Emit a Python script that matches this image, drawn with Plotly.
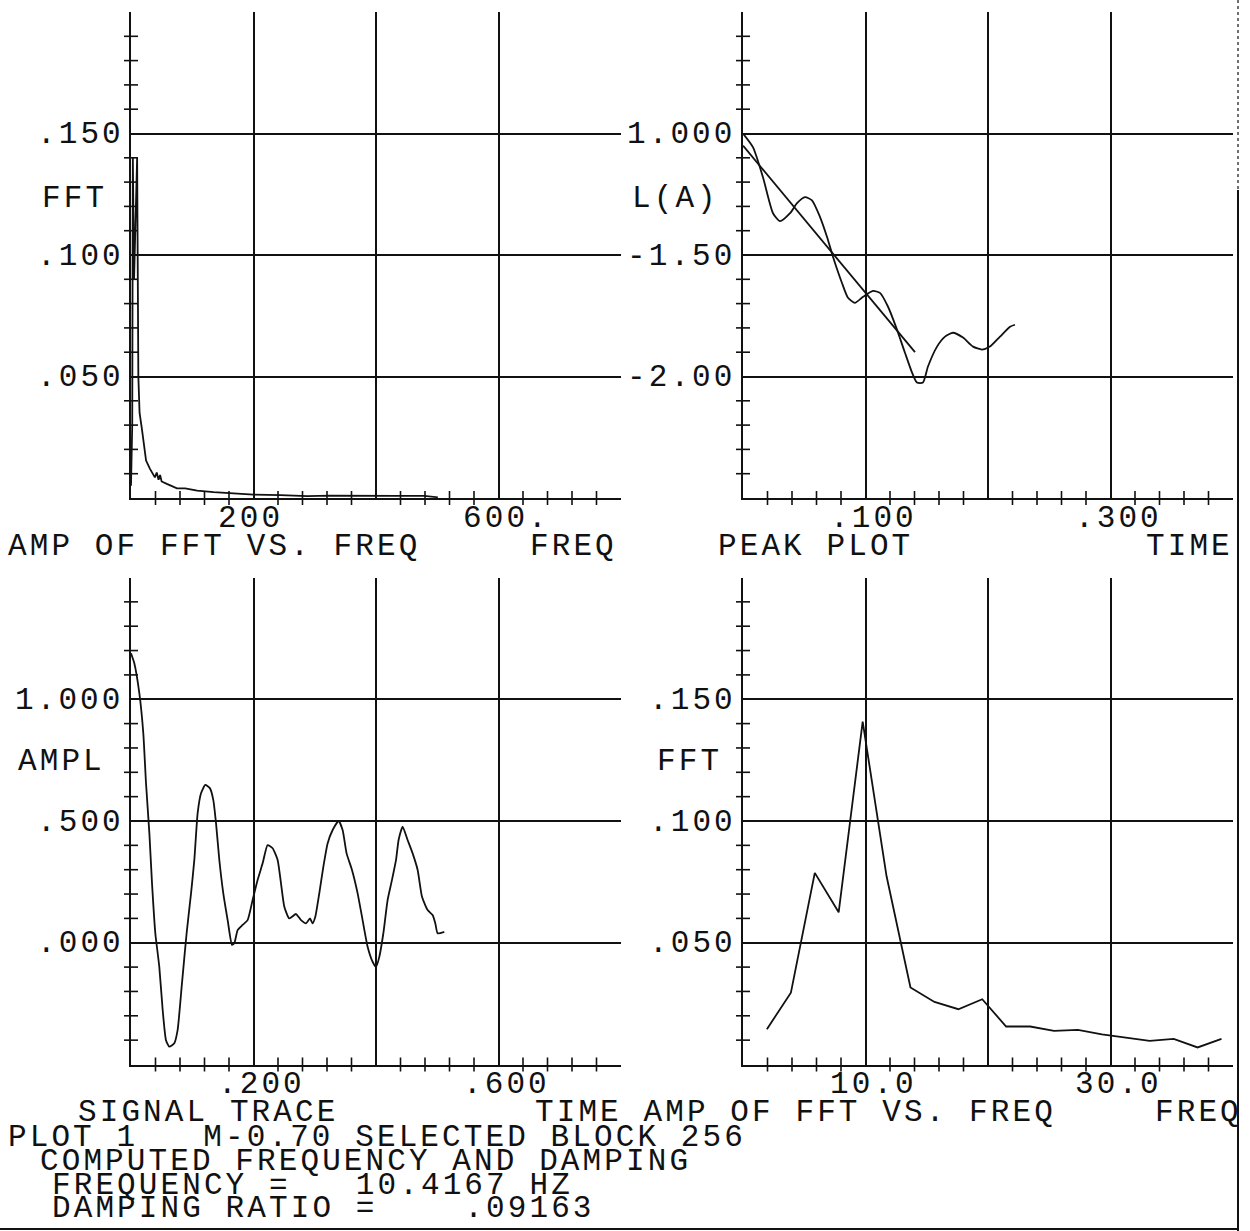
import numpy as np
import plotly.graph_objects as go

# ---------------- data ----------------
# Top-left: amplitude of FFT vs frequency (full band)
TL_FREQ = [0, 2, 3, 5, 7, 10, 12, 14, 17.5, 21.3, 24.6, 31, 39, 42, 45, 47.5, 50,
           58.5, 75, 88.5, 108, 135, 162, 200, 244, 288, 326, 381, 435, 479, 501]
TL_AMP = [0.005, 0.03, 0.14, 0.09, 0.11, 0.14, 0.05, 0.035, 0.029, 0.0216, 0.0154, 0.012,
          0.0085, 0.0105, 0.0075, 0.0095, 0.0068, 0.0058, 0.004, 0.004, 0.003, 0.0024,
          0.0019, 0.0014, 0.0012, 0.0008, 0.001, 0.0008, 0.0009, 0.0009, 0.0003]

# Top-right: peak plot L(A) vs time, with fitted line
PEAK_T = [0.000, 0.0082, 0.0163, 0.0245, 0.0302, 0.0384, 0.0441, 0.0506, 0.0563, 0.0629,
          0.0686, 0.0735, 0.0808, 0.0857, 0.0914, 0.0980, 0.1061, 0.1118, 0.1184, 0.1257,
          0.1322, 0.1380, 0.1420, 0.1469, 0.1510, 0.1584, 0.1649, 0.1714, 0.1796, 0.1878,
          0.1951, 0.2016, 0.2098, 0.2180, 0.2220]
PEAK_LA = [-1.00, -1.057, -1.180, -1.328, -1.361, -1.328, -1.287, -1.262, -1.275, -1.344,
           -1.426, -1.508, -1.615, -1.676, -1.697, -1.672, -1.648, -1.656, -1.713, -1.807,
           -1.902, -1.984, -2.025, -2.025, -1.959, -1.877, -1.836, -1.820, -1.840, -1.877,
           -1.889, -1.877, -1.836, -1.795, -1.787]
FIT_T = [0.0, 0.1404]
FIT_LA = [-1.05, -1.90]

# Bottom-left: signal trace
SIG_T = [0.0, 0.0054, 0.0136, 0.0201, 0.0245, 0.030, 0.0343, 0.0397, 0.0462, 0.0517,
         0.0571, 0.0625, 0.0707, 0.0761, 0.0832, 0.0908, 0.098, 0.1034, 0.1088, 0.1143,
         0.1213, 0.129, 0.1344, 0.1388, 0.1442, 0.1507, 0.1578, 0.1649, 0.1687, 0.1741,
         0.1822, 0.1904, 0.1986, 0.2067, 0.2149, 0.223, 0.2312, 0.2394, 0.2449, 0.2503,
         0.2584, 0.2694, 0.2776, 0.2857, 0.2922, 0.2965, 0.3009, 0.3074, 0.314, 0.321,
         0.3292, 0.339, 0.3455, 0.352, 0.3608, 0.37, 0.3781, 0.3863, 0.3945, 0.40,
         0.4054, 0.412, 0.419, 0.4261, 0.4327, 0.4369, 0.4435, 0.4516, 0.4598, 0.468,
         0.4751, 0.4843, 0.4924, 0.4968, 0.5006, 0.5115]
SIG_A = [1.189, 1.148, 1.025, 0.860, 0.655, 0.449, 0.244, 0.039, -0.099, -0.276,
         -0.400, -0.427, -0.413, -0.359, -0.167, 0.039, 0.203, 0.340, 0.532, 0.614,
         0.648, 0.634, 0.586, 0.491, 0.340, 0.203, 0.093, -0.009, -0.002, 0.052,
         0.073, 0.093, 0.176, 0.258, 0.326, 0.401, 0.388, 0.340, 0.244, 0.148,
         0.100, 0.118, 0.093, 0.080, 0.100, 0.080, 0.107, 0.203, 0.312, 0.408,
         0.463, 0.500, 0.463, 0.367, 0.299, 0.203, 0.093, -0.016, -0.078, -0.099,
         -0.058, 0.039, 0.176, 0.258, 0.340, 0.422, 0.477, 0.422, 0.367, 0.299,
         0.189, 0.134, 0.114, 0.080, 0.039, 0.045]

# Bottom-right: amplitude of FFT vs frequency (zoomed)
FFT_F = [1.95, 3.91, 5.86, 7.81, 9.77, 11.72, 13.67, 15.63, 17.58, 19.53,
         21.48, 23.44, 25.39, 27.34, 29.30, 31.25, 33.20, 35.16, 37.11, 39.06]
FFT_A = [0.0145, 0.0295, 0.0787, 0.0625, 0.1408, 0.0773, 0.0316, 0.0257, 0.0227, 0.0268,
         0.0156, 0.0156, 0.0138, 0.0142, 0.0124, 0.0111, 0.0097, 0.0105, 0.0070, 0.0105]

# tick labels
TL_XLAB = {200: "200", 600: "600."}
TL_YLAB = {0.15: ".150", 0.10: ".100", 0.05: ".050"}
TR_XLAB = {0.1: ".100", 0.3: ".300"}
TR_YLAB = {-1.0: "1.000", -1.5: "-1.50", -2.0: "-2.00"}
BL_XLAB = {0.2: ".200", 0.6: ".600"}
BL_YLAB = {1.0: "1.000", 0.5: ".500", 0.0: ".000"}
BR_XLAB = {10: "10.0", 30: "30.0"}
BR_YLAB = {0.15: ".150", 0.10: ".100", 0.05: ".050"}

# ---------------- layout helpers ----------------
W, H = 1250, 1231
FONT = "Liberation Mono"
FS = 31
SPACING = "3.1px"
INK = "#111111"


def fx(px):
    return px / W


def fy(py):
    return 1 - py / H


def styled(s):
    s = s.replace(" ", "\u00a0")
    return '<span style="letter-spacing:%s">%s</span>' % (SPACING, s)


panels = [
    dict(n="", xpx=(131, 621), ypx=(12, 498), xr=(0, 800), yr=(0, 0.2),
         xgrid=[200, 400, 600], ygrid=[0.05, 0.10, 0.15], xstep=40, ystep=0.01,
         xlab=TL_XLAB, ylab=TL_YLAB),
    dict(n="2", xpx=(743, 1233), ypx=(12, 498), xr=(0, 0.4), yr=(-2.5, -0.5),
         xgrid=[0.1, 0.2, 0.3], ygrid=[-2.0, -1.5, -1.0], xstep=0.02, ystep=0.1,
         xlab=TR_XLAB, ylab=TR_YLAB),
    dict(n="3", xpx=(131, 621), ypx=(577.5, 1064.5), xr=(0, 0.8), yr=(-0.5, 1.5),
         xgrid=[0.2, 0.4, 0.6], ygrid=[0.0, 0.5, 1.0], xstep=0.04, ystep=0.1,
         xlab=BL_XLAB, ylab=BL_YLAB),
    dict(n="4", xpx=(743, 1233), ypx=(577.5, 1064.5), xr=(0, 40), yr=(0, 0.2),
         xgrid=[10, 20, 30], ygrid=[0.05, 0.10, 0.15], xstep=2, ystep=0.01,
         xlab=BR_XLAB, ylab=BR_YLAB),
]

fig = go.Figure()
layout = dict(width=W, height=H, margin=dict(l=0, r=0, t=0, b=0),
              paper_bgcolor="white", plot_bgcolor="white", showlegend=False)
annotations = []

for p in panels:
    n = p["n"]
    xa, ya = "xaxis" + n, "yaxis" + n
    xr_, yr_ = "x" + n, "y" + n
    layout[xa] = dict(domain=[fx(p["xpx"][0]), fx(p["xpx"][1])], range=list(p["xr"]),
                      anchor=yr_, showline=True, linecolor=INK, linewidth=2,
                      showgrid=True, gridcolor=INK, gridwidth=2,
                      tickmode="array", tickvals=p["xgrid"], ticks="",
                      showticklabels=False, zeroline=False, fixedrange=True)
    layout[ya] = dict(domain=[fy(p["ypx"][1]), fy(p["ypx"][0])], range=list(p["yr"]),
                      anchor=xr_, showline=True, linecolor=INK, linewidth=2,
                      showgrid=True, gridcolor=INK, gridwidth=2,
                      tickmode="array", tickvals=p["ygrid"], ticks="",
                      showticklabels=False, zeroline=False, fixedrange=True)
    # cross ("+") tick marks along the axes
    xt = np.arange(p["xr"][0] + p["xstep"], p["xr"][1] - p["xstep"] / 2, p["xstep"])
    xt = [v for v in xt if not any(np.isclose(v, g) for g in p["xgrid"])]
    yt = np.arange(p["yr"][0] + p["ystep"], p["yr"][1] - p["ystep"] / 2, p["ystep"])
    yt = [v for v in yt if not any(np.isclose(v, g) for g in p["ygrid"])]
    fig.add_trace(go.Scatter(x=xt, y=[p["yr"][0]] * len(xt), mode="markers", xaxis=xr_, yaxis=yr_,
                             marker=dict(symbol="line-ns", size=10, line=dict(color=INK, width=1.6)),
                             cliponaxis=False, hoverinfo="skip"))
    fig.add_trace(go.Scatter(x=[p["xr"][0]] * len(yt), y=yt, mode="markers", xaxis=xr_, yaxis=yr_,
                             marker=dict(symbol="line-ew", size=10, line=dict(color=INK, width=1.6)),
                             cliponaxis=False, hoverinfo="skip"))
    # tick labels
    for v, t in p["xlab"].items():
        annotations.append(dict(x=v, y=p["yr"][0], xref=xr_, yref=yr_, text=styled(t), showarrow=False,
                                xanchor="left", yanchor="middle", xshift=-38, yshift=-20,
                                font=dict(family=FONT, size=FS, color=INK)))
    for v, t in p["ylab"].items():
        annotations.append(dict(x=p["xr"][0], y=v, xref=xr_, yref=yr_, text=styled(t), showarrow=False,
                                xanchor="right", yanchor="middle", xshift=-5, yshift=-1,
                                font=dict(family=FONT, size=FS, color=INK)))

line_style = dict(color=INK, width=1.8)
fig.add_trace(go.Scatter(x=TL_FREQ, y=TL_AMP, mode="lines", line=line_style, xaxis="x", yaxis="y"))
fig.add_trace(go.Scatter(x=PEAK_T, y=PEAK_LA, mode="lines", xaxis="x2", yaxis="y2",
                         line=dict(color=INK, width=1.8, shape="spline", smoothing=0.6)))
fig.add_trace(go.Scatter(x=FIT_T, y=FIT_LA, mode="lines", line=line_style, xaxis="x2", yaxis="y2"))
fig.add_trace(go.Scatter(x=SIG_T, y=SIG_A, mode="lines", xaxis="x3", yaxis="y3",
                         line=dict(color=INK, width=1.8, shape="spline", smoothing=0.5)))
fig.add_trace(go.Scatter(x=FFT_F, y=FFT_A, mode="lines", line=line_style, xaxis="x4", yaxis="y4"))


def text(px, py, s, anchor="left"):
    annotations.append(dict(x=fx(px), y=fy(py), xref="paper", yref="paper",
                            text=styled(s), showarrow=False,
                            xanchor=anchor, yanchor="middle",
                            font=dict(family=FONT, size=FS, color=INK)))


# axis titles
text(40, 198, "FFT")
text(630, 198, "L(A)")
text(16, 761, "AMPL")
text(655, 761, "FFT")
# panel captions
text(6, 546, "AMP OF FFT VS. FREQ")
text(619, 546, "FREQ", "right")
text(716, 546, "PEAK PLOT")
text(1235, 546, "TIME", "right")
text(76, 1112, "SIGNAL TRACE")
text(533, 1112, "TIME AMP OF FFT VS. FREQ")
text(1244, 1112, "FREQ", "right")
# footer
text(6, 1137, "PLOT 1   M-0.70 SELECTED BLOCK 256")
text(38, 1161, "COMPUTED FREQUENCY AND DAMPING")
text(50, 1185, "FREQUENCY =   10.4167 HZ")
text(50, 1208, "DAMPING RATIO =    .09163")

layout["annotations"] = annotations
layout["shapes"] = [
    dict(type="line", xref="paper", yref="paper", x0=fx(1238), x1=fx(1238), y0=fy(190), y1=fy(1231),
         line=dict(color=INK, width=2)),
    dict(type="line", xref="paper", yref="paper", x0=fx(1238), x1=fx(1238), y0=fy(0), y1=fy(190),
         line=dict(color=INK, width=1.2, dash="dot")),
    dict(type="line", xref="paper", yref="paper", x0=0, x1=fx(1238), y0=fy(1229), y1=fy(1229),
         line=dict(color=INK, width=2)),
]
fig.update_layout(**layout)
fig.write_html("out.html",
               config={"displayModeBar": False, "staticPlot": True},
               post_script="document.body.style.margin='0';document.body.style.padding='0';"
                           "document.body.style.overflow='hidden';")
